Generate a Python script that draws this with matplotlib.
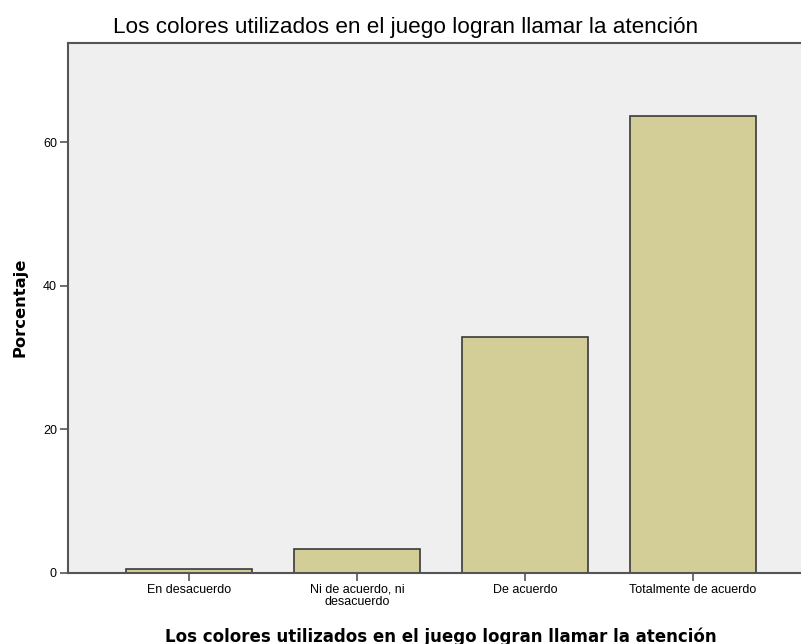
import matplotlib
matplotlib.use('Agg')
import matplotlib.pyplot as plt

categories = ['En desacuerdo', 'Ni de acuerdo, ni\ndesacuerdo', 'De acuerdo', 'Totalmente de acuerdo']
percentages = [0.5, 3.3, 32.8, 63.7]
y_ticks = [0, 20, 40, 60]

title = 'Los colores utilizados en el juego logran llamar la atención'

plt.rcParams['font.family'] = ['Liberation Sans', 'DejaVu Sans']

fig = plt.figure(figsize=(8.01, 6.44), dpi=100)
ax = fig.add_axes([68 / 801, 1 - 572.5 / 644, (814 - 68) / 801, (572.5 - 42.5) / 644])
ax.set_facecolor('#EFEFEF')

x = list(range(len(categories)))
ax.bar(x, percentages, width=0.755, color='#D3CE97', edgecolor='#3A3A3A', linewidth=1.2, zorder=2)

ax.set_xlim(-0.72, 3.72)
ax.set_ylim(0, 73.9)
ax.set_xticks(x)
ax.set_xticklabels(categories, fontsize=9, linespacing=1.0)
ax.set_yticks(y_ticks)
ax.set_yticklabels([str(v) for v in y_ticks], fontsize=9)
ax.tick_params(axis='both', direction='out', length=6, width=1.2, color='#555555', pad=2)

for side in ['left', 'top', 'bottom', 'right']:
    ax.spines[side].set_color('#555555')
    ax.spines[side].set_linewidth(1.5)

ax.set_xlabel(title, fontsize=12, fontweight='bold', family='DejaVu Sans', labelpad=14)
ax.set_ylabel('Porcentaje', fontsize=11.8, fontweight='bold', family='DejaVu Sans', labelpad=11)
fig.text(406 / 801, 1 - 33 / 644, title, ha='center', va='baseline', fontsize=16.2)

fig.savefig('out.png', dpi=100)
